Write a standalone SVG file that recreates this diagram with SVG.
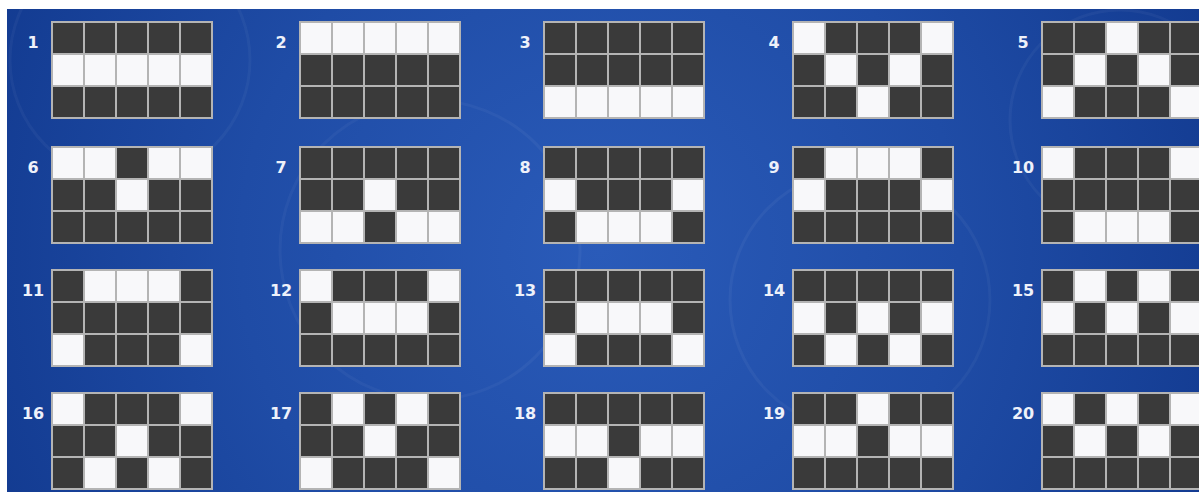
<svg xmlns="http://www.w3.org/2000/svg" xmlns:xlink="http://www.w3.org/1999/xlink" width="1199" height="492" viewBox="0 0 1199 492">
<style>
.bg{fill:#3a3a3a}
.w{fill:#f8f8fa}
.gl{fill:none;stroke:#b4b4b4;stroke-width:2}
.lbl{font-family:"DejaVu Sans",sans-serif;font-weight:bold;font-size:16px;fill:#eef1fa;text-anchor:middle}
</style>
<defs>
<radialGradient id="bgGrad" cx="600" cy="250" r="720" gradientUnits="userSpaceOnUse">
<stop offset="0" stop-color="#2a5bb9"/>
<stop offset="0.5" stop-color="#1f4ca6"/>
<stop offset="1" stop-color="#10378c"/>
</radialGradient>
<path id="lines" class="gl" d="M0,0H160V96H0Z M32,0V96 M64,0V96 M96,0V96 M128,0V96 M0,32H160 M0,64H160"/>
</defs>
<rect width="1199" height="492" fill="#ffffff"/>
<rect x="7" y="9" width="1192" height="483" fill="url(#bgGrad)"/>
<g opacity="0.04" fill="none" stroke="#ffffff" stroke-width="3">
<circle cx="130" cy="60" r="120"/>
<circle cx="430" cy="250" r="150"/>
<circle cx="860" cy="300" r="130"/>
<circle cx="1120" cy="120" r="110"/>
</g>

<g id="line1" transform="translate(52,22)"><rect class="bg" width="160" height="96"/><rect class="w" x="0" y="32" width="160" height="32"/><use xlink:href="#lines"/><text class="lbl" x="-19" y="26">1</text></g>
<g id="line2" transform="translate(300,22)"><rect class="bg" width="160" height="96"/><rect class="w" x="0" y="0" width="160" height="32"/><use xlink:href="#lines"/><text class="lbl" x="-19" y="26">2</text></g>
<g id="line3" transform="translate(544,22)"><rect class="bg" width="160" height="96"/><rect class="w" x="0" y="64" width="160" height="32"/><use xlink:href="#lines"/><text class="lbl" x="-19" y="26">3</text></g>
<g id="line4" transform="translate(793,22)"><rect class="bg" width="160" height="96"/><rect class="w" x="0" y="0" width="32" height="32"/><rect class="w" x="128" y="0" width="32" height="32"/><rect class="w" x="32" y="32" width="32" height="32"/><rect class="w" x="96" y="32" width="32" height="32"/><rect class="w" x="64" y="64" width="32" height="32"/><use xlink:href="#lines"/><text class="lbl" x="-19" y="26">4</text></g>
<g id="line5" transform="translate(1042,22)"><rect class="bg" width="160" height="96"/><rect class="w" x="64" y="0" width="32" height="32"/><rect class="w" x="32" y="32" width="32" height="32"/><rect class="w" x="96" y="32" width="32" height="32"/><rect class="w" x="0" y="64" width="32" height="32"/><rect class="w" x="128" y="64" width="32" height="32"/><use xlink:href="#lines"/><text class="lbl" x="-19" y="26">5</text></g>

<g id="line6" transform="translate(52,147)"><rect class="bg" width="160" height="96"/><rect class="w" x="0" y="0" width="64" height="32"/><rect class="w" x="96" y="0" width="64" height="32"/><rect class="w" x="64" y="32" width="32" height="32"/><use xlink:href="#lines"/><text class="lbl" x="-19" y="26">6</text></g>
<g id="line7" transform="translate(300,147)"><rect class="bg" width="160" height="96"/><rect class="w" x="64" y="32" width="32" height="32"/><rect class="w" x="0" y="64" width="64" height="32"/><rect class="w" x="96" y="64" width="64" height="32"/><use xlink:href="#lines"/><text class="lbl" x="-19" y="26">7</text></g>
<g id="line8" transform="translate(544,147)"><rect class="bg" width="160" height="96"/><rect class="w" x="0" y="32" width="32" height="32"/><rect class="w" x="128" y="32" width="32" height="32"/><rect class="w" x="32" y="64" width="96" height="32"/><use xlink:href="#lines"/><text class="lbl" x="-19" y="26">8</text></g>
<g id="line9" transform="translate(793,147)"><rect class="bg" width="160" height="96"/><rect class="w" x="32" y="0" width="96" height="32"/><rect class="w" x="0" y="32" width="32" height="32"/><rect class="w" x="128" y="32" width="32" height="32"/><use xlink:href="#lines"/><text class="lbl" x="-19" y="26">9</text></g>
<g id="line10" transform="translate(1042,147)"><rect class="bg" width="160" height="96"/><rect class="w" x="0" y="0" width="32" height="32"/><rect class="w" x="128" y="0" width="32" height="32"/><rect class="w" x="32" y="64" width="96" height="32"/><use xlink:href="#lines"/><text class="lbl" x="-19" y="26">10</text></g>

<g id="line11" transform="translate(52,270)"><rect class="bg" width="160" height="96"/><rect class="w" x="32" y="0" width="96" height="32"/><rect class="w" x="0" y="64" width="32" height="32"/><rect class="w" x="128" y="64" width="32" height="32"/><use xlink:href="#lines"/><text class="lbl" x="-19" y="26">11</text></g>
<g id="line12" transform="translate(300,270)"><rect class="bg" width="160" height="96"/><rect class="w" x="0" y="0" width="32" height="32"/><rect class="w" x="128" y="0" width="32" height="32"/><rect class="w" x="32" y="32" width="96" height="32"/><use xlink:href="#lines"/><text class="lbl" x="-19" y="26">12</text></g>
<g id="line13" transform="translate(544,270)"><rect class="bg" width="160" height="96"/><rect class="w" x="32" y="32" width="96" height="32"/><rect class="w" x="0" y="64" width="32" height="32"/><rect class="w" x="128" y="64" width="32" height="32"/><use xlink:href="#lines"/><text class="lbl" x="-19" y="26">13</text></g>
<g id="line14" transform="translate(793,270)"><rect class="bg" width="160" height="96"/><rect class="w" x="0" y="32" width="32" height="32"/><rect class="w" x="64" y="32" width="32" height="32"/><rect class="w" x="128" y="32" width="32" height="32"/><rect class="w" x="32" y="64" width="32" height="32"/><rect class="w" x="96" y="64" width="32" height="32"/><use xlink:href="#lines"/><text class="lbl" x="-19" y="26">14</text></g>
<g id="line15" transform="translate(1042,270)"><rect class="bg" width="160" height="96"/><rect class="w" x="32" y="0" width="32" height="32"/><rect class="w" x="96" y="0" width="32" height="32"/><rect class="w" x="0" y="32" width="32" height="32"/><rect class="w" x="64" y="32" width="32" height="32"/><rect class="w" x="128" y="32" width="32" height="32"/><use xlink:href="#lines"/><text class="lbl" x="-19" y="26">15</text></g>

<g id="line16" transform="translate(52,393)"><rect class="bg" width="160" height="96"/><rect class="w" x="0" y="0" width="32" height="32"/><rect class="w" x="128" y="0" width="32" height="32"/><rect class="w" x="64" y="32" width="32" height="32"/><rect class="w" x="32" y="64" width="32" height="32"/><rect class="w" x="96" y="64" width="32" height="32"/><use xlink:href="#lines"/><text class="lbl" x="-19" y="26">16</text></g>
<g id="line17" transform="translate(300,393)"><rect class="bg" width="160" height="96"/><rect class="w" x="32" y="0" width="32" height="32"/><rect class="w" x="96" y="0" width="32" height="32"/><rect class="w" x="64" y="32" width="32" height="32"/><rect class="w" x="0" y="64" width="32" height="32"/><rect class="w" x="128" y="64" width="32" height="32"/><use xlink:href="#lines"/><text class="lbl" x="-19" y="26">17</text></g>
<g id="line18" transform="translate(544,393)"><rect class="bg" width="160" height="96"/><rect class="w" x="0" y="32" width="64" height="32"/><rect class="w" x="96" y="32" width="64" height="32"/><rect class="w" x="64" y="64" width="32" height="32"/><use xlink:href="#lines"/><text class="lbl" x="-19" y="26">18</text></g>
<g id="line19" transform="translate(793,393)"><rect class="bg" width="160" height="96"/><rect class="w" x="64" y="0" width="32" height="32"/><rect class="w" x="0" y="32" width="64" height="32"/><rect class="w" x="96" y="32" width="64" height="32"/><use xlink:href="#lines"/><text class="lbl" x="-19" y="26">19</text></g>
<g id="line20" transform="translate(1042,393)"><rect class="bg" width="160" height="96"/><rect class="w" x="0" y="0" width="32" height="32"/><rect class="w" x="64" y="0" width="32" height="32"/><rect class="w" x="128" y="0" width="32" height="32"/><rect class="w" x="32" y="32" width="32" height="32"/><rect class="w" x="96" y="32" width="32" height="32"/><use xlink:href="#lines"/><text class="lbl" x="-19" y="26">20</text></g>
<g id="connectors"/>
</svg>
